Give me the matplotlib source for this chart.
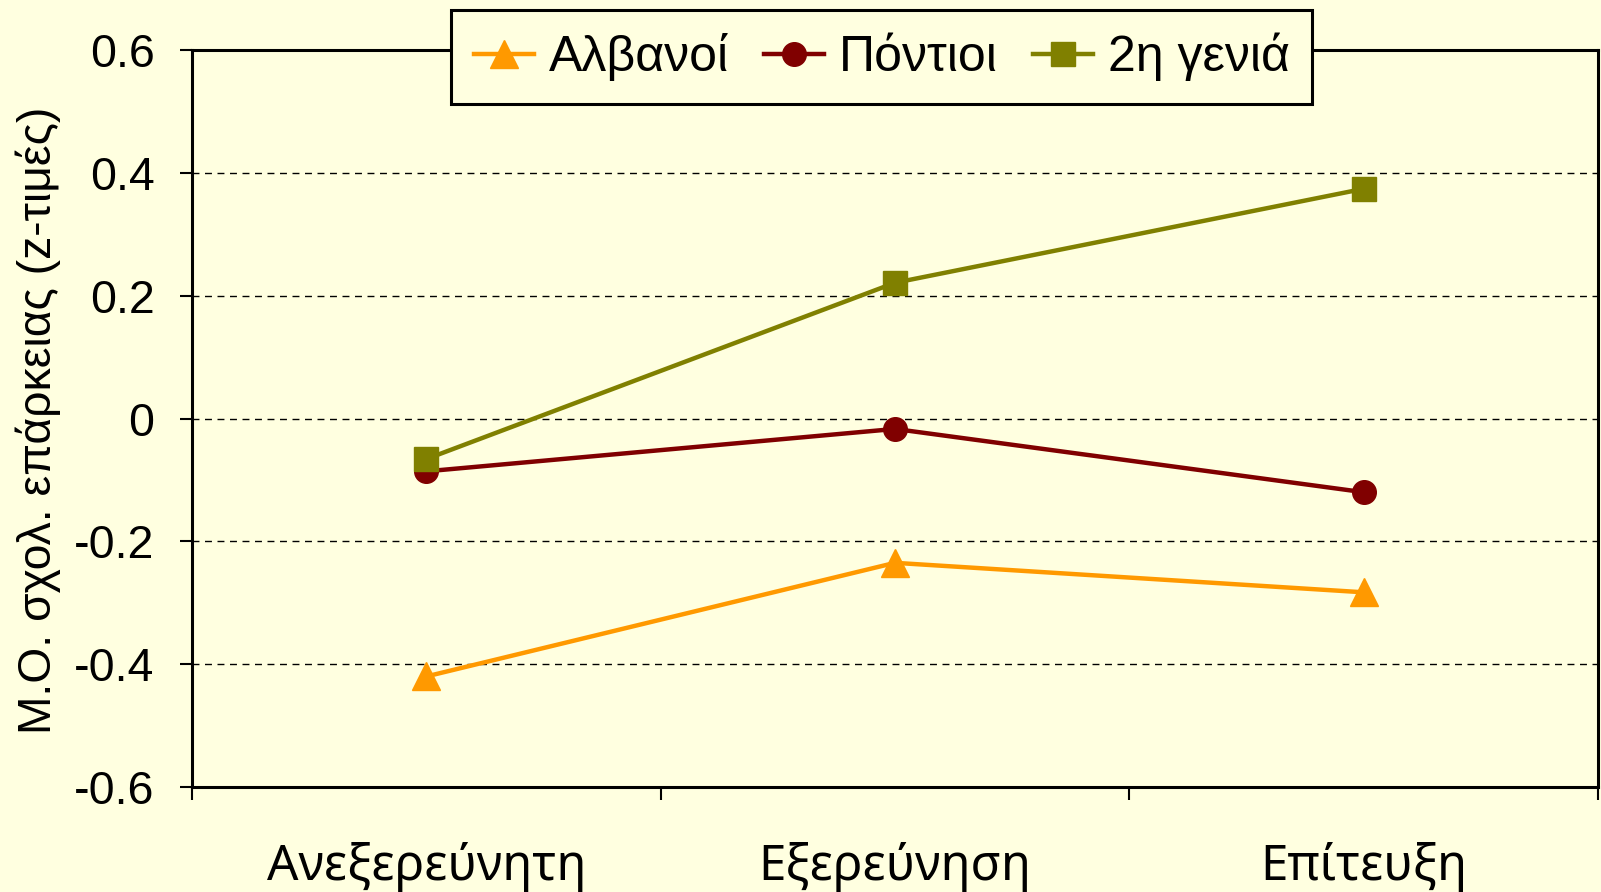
import matplotlib
matplotlib.use("Agg")
import matplotlib.pyplot as plt
from matplotlib.transforms import blended_transform_factory

categories = ["Ανεξερεύνητη", "Εξερεύνηση", "Επίτευξη"]
albanians = [-0.42, -0.235, -0.283]
pontians = [-0.086, -0.017, -0.12]
second_gen = [-0.066, 0.221, 0.374]
series_names = ["Αλβανοί", "Πόντιοι", "2η γενιά"]
y_ticks = [-0.6, -0.4, -0.2, 0, 0.2, 0.4, 0.6]
y_ticklabels = ["-0.6", "-0.4", "-0.2", "0", "0.2", "0.4", "0.6"]

bg = "#FFFFE0"
plt.rcParams['font.family'] = ['Liberation Sans', 'DejaVu Sans']

fig = plt.figure(figsize=(16.01, 8.92), dpi=100, facecolor=bg)
ax = fig.add_axes([192/1601, 1-787/892, (1598-192)/1601, (787-50)/892])
ax.set_facecolor(bg)

x = list(range(len(categories)))
lw = 3.2
ax.plot(x, albanians, color="#FF9900", lw=lw, marker="^", markersize=20, label=series_names[0], zorder=3)
ax.plot(x, pontians, color="#800000", lw=lw, marker="o", markersize=17, label=series_names[1], zorder=3)
ax.plot(x, second_gen, color="#808000", lw=lw, marker="s", markersize=17, label=series_names[2], zorder=4)

ax.set_xlim(-0.5, 2.5)
ax.set_ylim(-0.6, 0.6)
ax.set_yticks(y_ticks)
ax.set_yticklabels(y_ticklabels, fontsize=33.5)
for yv in y_ticks[1:-1]:
    ax.axhline(yv, color="black", lw=1.0, ls=(0, (5, 4)), zorder=1)

ax.set_xticks([-0.5, 0.5, 1.5, 2.5])
ax.set_xticklabels([])
ax.tick_params(axis='x', which='major', length=9, width=1.5, direction='out')
ax.tick_params(axis='y', length=9, width=1.5, direction='out', pad=18)

trans = blended_transform_factory(ax.transData, fig.transFigure)
for xi, cat in zip(x, categories):
    ax.text(xi, 1-880/892, cat, transform=trans, ha='center', va='baseline',
            fontsize=35.5, family=['Noto Sans', 'DejaVu Sans'])

for s in ax.spines.values():
    s.set_linewidth(2.2)
    s.set_color("black")

fig.text(38/1601, 1-420/892, "Μ.Ο. σχολ. επάρκειας (z-τιμές)", rotation=90,
         ha='center', va='center', fontsize=33.3)

leg = fig.legend(loc="upper center", bbox_to_anchor=(881.5/1601, 1-10/892), ncol=3,
                 fontsize=36, frameon=True, fancybox=False, facecolor=bg, framealpha=1,
                 edgecolor="black", handlelength=1.2, handletextpad=0.3, columnspacing=0.7,
                 borderpad=0.45, borderaxespad=0)
leg.get_frame().set_linewidth(2.2)

fig.savefig("out.png", dpi=100, facecolor=bg)
